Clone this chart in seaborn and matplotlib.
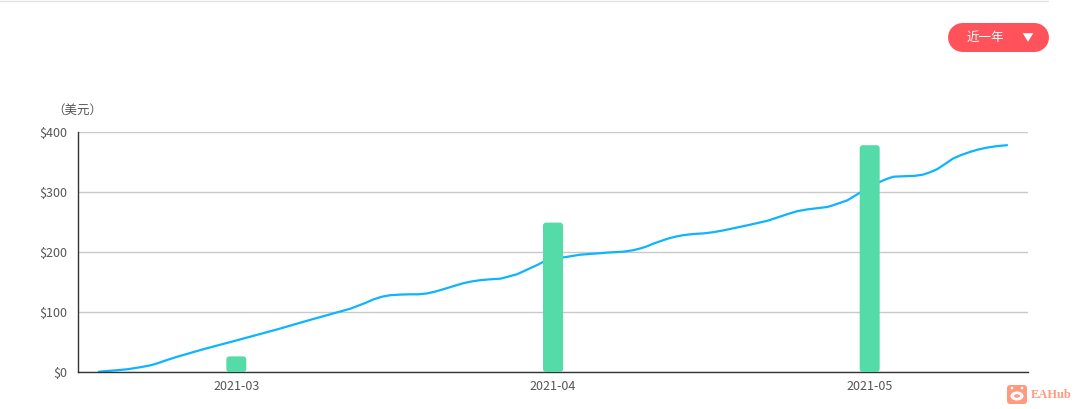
import matplotlib
matplotlib.use("Agg")
import matplotlib.pyplot as plt
from matplotlib.patches import FancyBboxPatch, Ellipse, Polygon, Circle
import pandas as pd
import seaborn as sns

months = ["2021-03", "2021-04", "2021-05"]
bar_values = [26, 249, 378]

# posicao da linha em unidades de mes (0 = 2021-03, 1 = 2021-04, ...)
line_pos = [-0.434, -0.376, -0.345, -0.303, -0.272, -0.249, -0.219, -0.186, -0.104, 0.003,
            0.129, 0.234, 0.360, 0.407, 0.433, 0.460, 0.486, 0.518, 0.549, 0.575,
            0.603, 0.628, 0.654, 0.685, 0.717, 0.744, 0.770, 0.802, 0.834, 0.859,
            0.887, 0.928, 0.949, 0.969, 1.033, 1.086, 1.149, 1.171, 1.222, 1.254,
            1.276, 1.297, 1.317, 1.339, 1.361, 1.386, 1.411, 1.443, 1.475, 1.506,
            1.538, 1.614, 1.677, 1.740, 1.771, 1.803, 1.834, 1.866, 1.885, 1.929,
            1.948, 1.970, 2.033, 2.055, 2.075, 2.097, 2.119, 2.144, 2.169, 2.191,
            2.213, 2.239, 2.264, 2.291, 2.318, 2.344, 2.371, 2.402, 2.434]
line_values = [0.5, 3, 4.5, 8, 11, 14.5, 20, 25.5, 38, 53,
               71, 87, 105.5, 115, 121, 125.5, 128, 129, 129.5, 129.5,
               131, 134, 138, 143, 148, 151, 153, 154.5, 155.5, 159,
               163, 173, 178, 183.5, 191, 195.5, 198, 199, 200.5, 203,
               206, 209.5, 214, 218, 222, 225.5, 228, 230, 231, 233,
               236, 244.5, 252, 263, 268, 271, 273, 275, 278, 286,
               292, 299, 317, 322, 325.5, 326, 326.5, 327, 329, 333,
               338, 347, 356, 362, 367, 371, 374, 376.5, 378]
y_ticks = [0, 100, 200, 300, 400]
y_labels = ["$0", "$100", "$200", "$300", "$400"]

W, H = 1078, 409
BAR_COLOR = "#54DBA8"
LINE_COLOR = "#0DB4FF"
TEXT_COLOR = "#555555"
RED = "#FF525A"
LOGO = "#FF9A80"

sns.set_theme(style="white")
plt.rcParams["font.family"] = ["Noto Sans CJK SC", "DejaVu Sans"]

fig = plt.figure(figsize=(W / 100, H / 100), dpi=100)
ax = fig.add_axes([78 / W, (H - 372) / H, 950 / W, 240 / H])

df_bar = pd.DataFrame({"mes": months, "valor": bar_values})
df_line = pd.DataFrame({"pos": line_pos, "valor": line_values})

sns.barplot(data=df_bar, x="mes", y="valor", color=BAR_COLOR, saturation=1, width=20 / 316.7, ax=ax)
sns.lineplot(data=df_line, x="pos", y="valor", color=LINE_COLOR, linewidth=1.6, zorder=2,
             solid_joinstyle="round", ax=ax)

ax.set_xlim(-0.5, 2.5)
ax.set_ylim(0, 400)

# cantos arredondados nas barras
px_por_mes = 316.7
px_por_valor = 0.6
for bar in list(ax.patches):
    rounded = FancyBboxPatch((bar.get_x(), bar.get_y()), bar.get_width(), bar.get_height(),
                             boxstyle=f"round,pad=0,rounding_size={3 / px_por_mes}",
                             mutation_aspect=px_por_mes / px_por_valor,
                             facecolor=BAR_COLOR, edgecolor="none", zorder=3, clip_on=False)
    bar.remove()
    ax.add_patch(rounded)

ax.set_xlabel("")
ax.set_ylabel("")
ax.set_xticks(range(len(months)), months)
ax.set_yticks(y_ticks, y_labels)
ax.tick_params(axis="both", length=0, labelsize=9, labelcolor=TEXT_COLOR)
ax.tick_params(axis="y", pad=8)
ax.tick_params(axis="x", pad=6)
ax.grid(axis="y", color="#C8C8C8", linewidth=1)
ax.set_axisbelow(True)
sns.despine(ax=ax, top=True, right=True)
for lado in ["left", "bottom"]:
    ax.spines[lado].set_color("#333333")
    ax.spines[lado].set_linewidth(1)

# camada em pixels para o resto da pagina
over = fig.add_axes([0, 0, 1, 1], facecolor="none")
over.set_xlim(0, W)
over.set_ylim(H, 0)
over.axis("off")

over.plot([0, 1048], [1, 1], color="#E4E4E4", linewidth=1)
over.text(77, 110, "（美元）", fontsize=9, color=TEXT_COLOR, ha="center", va="center")

over.plot([962, 1033.5], [36.5, 36.5], color=RED, linewidth=29 * 0.72, solid_capstyle="round", zorder=2)
over.text(985, 37.5, "近一年", fontsize=9, color="white", ha="center", va="center", zorder=4)
over.add_patch(Polygon([[1022.7, 33.2], [1033.3, 33.2], [1028, 41.7]], closed=True,
                       facecolor="white", edgecolor="none", zorder=4))

over.add_patch(FancyBboxPatch((1007, 385), 20, 19, boxstyle="round,pad=0,rounding_size=3",
                              facecolor=LOGO, edgecolor="none"))
over.add_patch(Ellipse((1017, 396), 13, 9, facecolor="white", edgecolor="none"))
over.add_patch(Circle((1012, 388), 1.3, facecolor="white", edgecolor="none"))
over.add_patch(Circle((1022, 388), 1.3, facecolor="white", edgecolor="none"))
over.add_patch(Ellipse((1017, 396), 6, 3.5, facecolor=LOGO, edgecolor="none"))
over.text(1051, 394.5, "EAHub", fontsize=9, color=LOGO, ha="center", va="center",
          fontweight="bold", family="Liberation Serif")

fig.savefig("out.png", dpi=100)
